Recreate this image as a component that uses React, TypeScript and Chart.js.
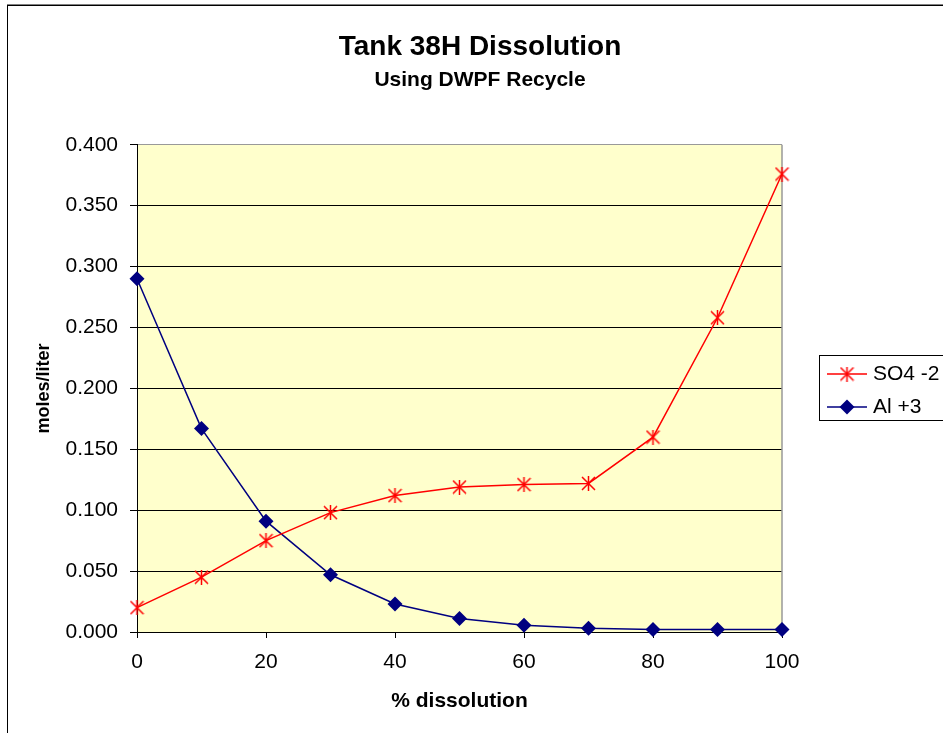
import React, { useEffect, useRef } from "react";
import { Chart, registerables } from "chart.js";

Chart.register(...registerables);

const dissolution = [0, 10, 20, 30, 40, 50, 60, 70, 80, 90, 100];
const so4Values = [0.020, 0.045, 0.075, 0.098, 0.112, 0.119, 0.121, 0.122, 0.160, 0.258, 0.376];
const alValues = [0.290, 0.167, 0.091, 0.047, 0.023, 0.011, 0.0055, 0.003, 0.002, 0.002, 0.002];
const seriesNames = ["SO4 -2", "Al +3"];
const titleText = "Tank 38H Dissolution";
const subtitleText = "Using DWPF Recycle";
const xTitle = "% dissolution";
const yTitle = "moles/liter";

const FONT = "'Liberation Sans', Arial, sans-serif";
const RED = "#FF0000";
const NAVY = "#000080";
const CANVAS_W = 960;
const CANVAS_H = 733;

function makeAsterisk(size: number, color: string): HTMLCanvasElement {
  const c = document.createElement("canvas");
  c.width = size;
  c.height = size;
  const ctx = c.getContext("2d")!;
  ctx.strokeStyle = color;
  ctx.lineWidth = 1.5;
  ctx.beginPath();
  ctx.moveTo(1, 1);
  ctx.lineTo(size - 1, size - 1);
  ctx.moveTo(size - 1, 1);
  ctx.lineTo(1, size - 1);
  ctx.moveTo(size / 2, 0);
  ctx.lineTo(size / 2, size);
  ctx.stroke();
  return c;
}

function drawDiamond(ctx: CanvasRenderingContext2D, x: number, y: number, r: number, color: string) {
  ctx.save();
  ctx.fillStyle = color;
  ctx.beginPath();
  ctx.moveTo(x, y - r);
  ctx.lineTo(x + r, y);
  ctx.lineTo(x, y + r);
  ctx.lineTo(x - r, y);
  ctx.closePath();
  ctx.fill();
  ctx.restore();
}

export default function App() {
  const canvasRef = useRef<HTMLCanvasElement | null>(null);

  useEffect(() => {
    if (!canvasRef.current) return;
    const asterisk = makeAsterisk(15, RED);

    const decorPlugin = {
      id: "decor",
      beforeDraw(chart: any) {
        const { ctx, chartArea: a } = chart;
        ctx.save();
        ctx.fillStyle = "#FFFFFF";
        ctx.fillRect(0, 0, chart.width, chart.height);
        ctx.fillStyle = "#FFFFCC";
        ctx.fillRect(a.left, a.top, a.right - a.left, a.bottom - a.top);
        ctx.restore();
      },
      beforeDatasetsDraw(chart: any) {
        const { ctx, chartArea: a } = chart;
        ctx.save();
        ctx.strokeStyle = "#999999";
        ctx.lineWidth = 1.5;
        ctx.beginPath();
        ctx.moveTo(a.right, a.top);
        ctx.lineTo(a.right, a.bottom);
        ctx.stroke();
        ctx.restore();
      },
      afterDraw(chart: any) {
        const { ctx } = chart;
        ctx.save();
        // outer frame
        ctx.strokeStyle = "#000";
        ctx.lineWidth = 1.5;
        ctx.beginPath();
        ctx.moveTo(7, 5.25);
        ctx.lineTo(953, 5.25);
        ctx.stroke();
        ctx.lineWidth = 1;
        ctx.beginPath();
        ctx.moveTo(7.5, 5);
        ctx.lineTo(7.5, chart.height);
        ctx.stroke();
        // legend
        const bx = 819.5, by = 355.5, bw = 200, bh = 65;
        ctx.fillStyle = "#fff";
        ctx.fillRect(bx, by, bw, bh);
        ctx.strokeStyle = "#000";
        ctx.lineWidth = 1;
        ctx.strokeRect(bx, by, bw, bh);
        const rows = [374, 407];
        chart.data.datasets.forEach((ds: any, i: number) => {
          const y = rows[i];
          ctx.strokeStyle = ds.borderColor;
          ctx.lineWidth = 1.5;
          ctx.beginPath();
          ctx.moveTo(827, y);
          ctx.lineTo(867, y);
          ctx.stroke();
          if (i === 0) {
            ctx.drawImage(asterisk, 847 - 7.5, y - 7.5);
          } else {
            drawDiamond(ctx, 847, y, 7.5, ds.borderColor);
          }
          ctx.fillStyle = "#000";
          ctx.font = `21px ${FONT}`;
          ctx.textAlign = "left";
          ctx.textBaseline = "middle";
          ctx.fillText(ds.label, 873, y);
        });
        ctx.restore();
      },
    };

    const chart = new Chart(canvasRef.current, {
      type: "line",
      data: {
        datasets: [
          {
            label: seriesNames[0],
            data: dissolution.map((x, i) => ({ x, y: so4Values[i] })),
            borderColor: RED,
            backgroundColor: RED,
            borderWidth: 1.5,
            pointStyle: asterisk as any,
            pointRadius: 7.5,
            tension: 0,
            clip: false as any,
          },
          {
            label: seriesNames[1],
            data: dissolution.map((x, i) => ({ x, y: alValues[i] })),
            borderColor: NAVY,
            backgroundColor: NAVY,
            borderWidth: 1.5,
            pointStyle: "rectRot",
            pointRadius: 7.5,
            pointBorderWidth: 0,
            tension: 0,
            clip: false as any,
          },
        ],
      },
      options: {
        responsive: false,
        animation: false,
        devicePixelRatio: 1,
        layout: { padding: 0 },
        plugins: {
          legend: { display: false },
          tooltip: { enabled: false },
          title: {
            display: true,
            text: titleText,
            color: "#000",
            font: { family: FONT, size: 28, weight: "bold" },
            padding: { top: 30, bottom: 0 },
          },
          subtitle: {
            display: true,
            text: subtitleText,
            color: "#000",
            font: { family: FONT, size: 21, weight: "bold" },
            padding: { top: 4, bottom: 52 },
          },
        },
        scales: {
          x: {
            type: "linear",
            min: 0,
            max: 100,
            ticks: {
              stepSize: 20,
              color: "#000",
              font: { family: FONT, size: 21 },
              padding: 12,
              maxRotation: 0,
            },
            grid: {
              drawOnChartArea: false,
              drawTicks: true,
              tickLength: 6,
              tickColor: "#000",
            },
            border: { color: "#000", width: 1 },
            title: {
              display: true,
              text: xTitle,
              color: "#000",
              font: { family: FONT, size: 21, weight: "bold" },
              padding: { top: 0, bottom: 19 },
            },
            afterFit(scale: any) {
              scale.height = 101;
            },
          },
          y: {
            type: "linear",
            min: 0,
            max: 0.4,
            ticks: {
              stepSize: 0.05,
              color: "#000",
              font: { family: FONT, size: 21 },
              padding: 12,
              callback: (v: any) => Number(v).toFixed(3),
            },
            grid: {
              color: (c: any) => (c.tick && Math.abs(c.tick.value - 0.4) < 1e-9 ? "#999999" : "#000000"),
              lineWidth: 1,
              drawTicks: true,
              tickLength: 7,
              tickColor: "#000",
            },
            border: { color: "#000", width: 1 },
            title: {
              display: true,
              text: yTitle,
              color: "#000",
              font: { family: FONT, size: 18, weight: "bold" },
              padding: { top: 33, bottom: 0 },
            },
            afterFit(scale: any) {
              scale.width = 137;
            },
          },
          legendSpace: {
            type: "linear",
            axis: "y",
            position: "right",
            min: 0,
            max: 1,
            display: true,
            ticks: { display: false },
            grid: { display: false, drawTicks: false },
            border: { display: false },
            title: { display: false },
            afterFit(scale: any) {
              scale.width = CANVAS_W - 782;
            },
          } as any,
        },
      },
      plugins: [decorPlugin],
    });

    return () => chart.destroy();
  }, []);

  return (
    <div style={{ position: "fixed", left: 0, top: 0, width: 943, height: 733, overflow: "hidden", background: "#fff" }}>
      <canvas ref={canvasRef} width={CANVAS_W} height={CANVAS_H} style={{ display: "block" }} />
    </div>
  );
}
